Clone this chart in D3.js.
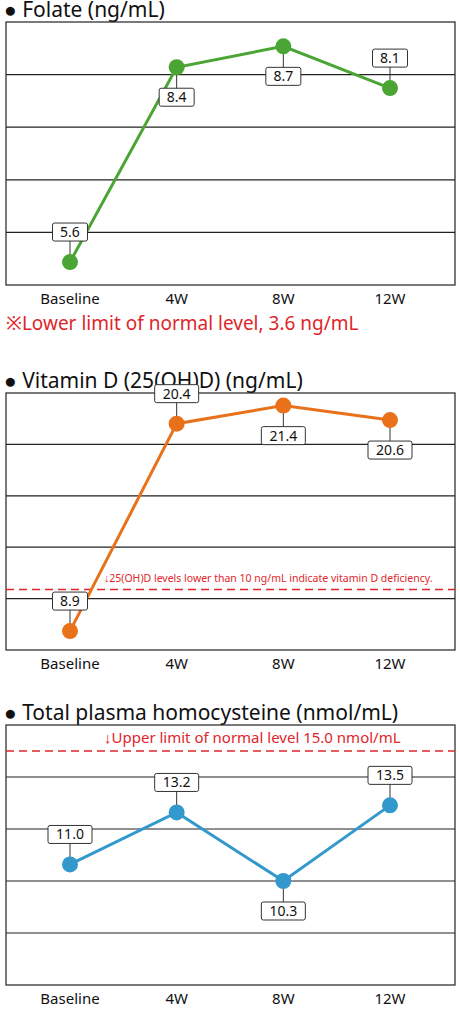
<!DOCTYPE html><html><head><meta charset="utf-8">
<script src="https://cdn.jsdelivr.net/npm/d3@7"></script>
<style>body{margin:0;background:#fff}text{font-family:"Noto Sans",Arial,sans-serif}</style></head><body>
<svg id="c" width="460" height="1013"></svg>
<script>
const categories=["Baseline","4W","8W","12W"];
const folate=[5.6,8.4,8.7,8.1];
const vitD=[8.9,20.4,21.4,20.6];
const hcy=[11.0,13.2,10.3,13.5];
const folatePos=["up","down","down","up"];
const vitDPos=["up","up","down","down"];
const hcyPos=["up","up","down","up"];
const svg=d3.select("#c");
const x=d3.scalePoint().domain(categories).range([70,390]);
function panel(o){
  const g=svg.append("g");
  g.append("text").attr("x",4).attr("y",o.top-5).attr("font-size",21).attr("fill","#111").text("● "+o.title);
  const y=d3.scaleLinear().domain(o.domain).range([o.bottom,o.top]);
  g.append("rect").attr("x",6).attr("y",o.top).attr("width",449).attr("height",o.bottom-o.top).attr("fill","none").attr("stroke","#222").attr("stroke-width",1.2);
  const t=d3.range(1,5).map(i=>o.domain[0]+(o.domain[1]-o.domain[0])*i/5);
  g.selectAll(".gl").data(t).join("line").attr("x1",6).attr("x2",455).attr("y1",d=>y(d)).attr("y2",d=>y(d)).attr("stroke","#222").attr("stroke-width",1.2);
  if(o.ref!=null){
    g.append("line").attr("x1",6).attr("x2",455).attr("y1",y(o.ref)).attr("y2",y(o.ref)).attr("stroke","#e0262b").attr("stroke-width",1.5).attr("stroke-dasharray","8,5");
    g.append("text").attr("x",o.refX).attr("y",y(o.ref)-8).attr("font-size",o.refSize).attr("fill","#e0262b").text(o.refText);
  }
  g.append("path").datum(o.data).attr("fill","none").attr("stroke",o.color).attr("stroke-width",3)
   .attr("d",d3.line().x((d,i)=>x(categories[i])).y(d=>y(d)));
  o.data.forEach((d,i)=>{
    const px=x(categories[i]),py=y(d),up=o.pos[i]==="up";
    const ly=up?py-30:py+30;
    g.append("line").attr("x1",px).attr("x2",px).attr("y1",py).attr("y2",ly).attr("stroke","#333");
    const s=d.toFixed(1);const w=s.length*9+8;
    g.append("rect").attr("x",px-w/2).attr("y",ly-9).attr("width",w).attr("height",18).attr("fill","#fff").attr("stroke","#333").attr("rx",2);
    g.append("text").attr("x",px).attr("y",ly+5).attr("text-anchor","middle").attr("font-size",14).attr("fill","#111").text(s);
    g.append("circle").attr("cx",px).attr("cy",py).attr("r",8).attr("fill",o.color);
  });
  g.selectAll(".xl").data(categories).join("text").attr("x",d=>x(d)).attr("y",o.bottom+19).attr("text-anchor","middle").attr("font-size",15).attr("fill","#111").text(d=>d);
}
panel({title:"Folate (ng/mL)",top:22,bottom:285,domain:[5.27,9.05],data:folate,pos:folatePos,color:"#4aa534"});
svg.append("text").attr("x",6).attr("y",330).attr("font-size",19).attr("fill","#e0262b").text("※Lower limit of normal level, 3.6 ng/mL");
panel({title:"Vitamin D (25(OH)D) (ng/mL)",top:393,bottom:650,domain:[7.85,22.1],data:vitD,pos:vitDPos,color:"#e8711a",ref:11.2,refX:104,refSize:10.5,refText:"↓25(OH)D levels lower than 10 ng/mL indicate vitamin D deficiency."});
panel({title:"Total plasma homocysteine (nmol/mL)",top:725,bottom:985,domain:[5.9,16.9],data:hcy,pos:hcyPos,color:"#3399cc",ref:15.8,refX:104,refSize:15,refText:"↓Upper limit of normal level 15.0 nmol/mL"});
</script></body></html>
